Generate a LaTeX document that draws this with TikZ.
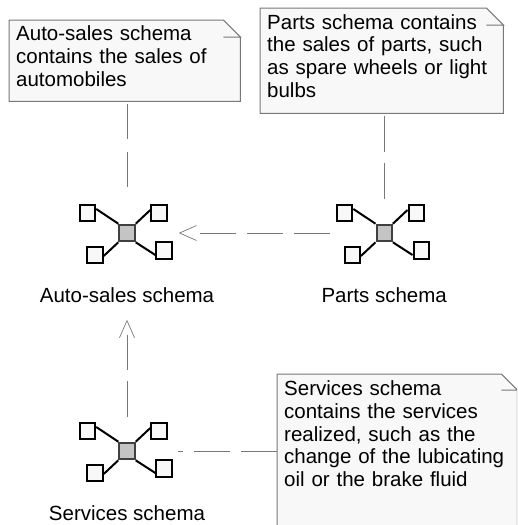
\documentclass[tikz,border=0pt]{standalone}
\usepackage{fontspec}
\setmainfont{Liberation Sans}
\usetikzlibrary{arrows.meta,calc}
\definecolor{notefill}{HTML}{F8F8F8}
\definecolor{iconfill}{HTML}{C4C4C4}
\definecolor{lineclr}{HTML}{787878}
\tikzset{
  notebox/.style={rectangle,fill=notefill,anchor=north west,align=left,text width=#1,inner sep=0pt,font=\fontsize{20.5}{22.8}\selectfont},
  notefold/.style={draw=lineclr,line width=1pt},
  schemabox/.style={rectangle,draw=black,line width=2pt,minimum width=15.4pt,minimum height=16.6pt,inner sep=0pt},
  schemalabel/.style={font=\fontsize{20.5}{22}\selectfont},
  schemaline/.style={draw=black,line width=2pt},
  depline/.style={draw=lineclr,line width=1pt}
}
\newcommand{\notebody}[2]{% outline with the folded corner
  \fill[white] ($(#1.north east)+(-#2,0)$) -- (#1.north east) -- ($(#1.north east)+(0,#2)$) -- cycle;
  \draw[notefold] ($(#1.north east)+(0,#2)$) -- (#1.south east) -- (#1.south west) -- (#1.north west)
    -- ($(#1.north east)+(-#2,0)$) -- ($(#1.north east)+(0,#2)$) -- ($(#1.north east)+(-#2,#2)$) -- cycle;
}
\begin{document}
\begin{tikzpicture}[x=1pt,y=-1pt]
  \useasboundingbox (0,0) rectangle (517,525);
  \clip (0,0) rectangle (517,525);
  \fill[white] (0,0) rectangle (517,525);

  % notes
  \node[notebox=231pt,minimum height=81pt] (autonote) at (9,20) {};
  \node[notebox=215pt,fill=none] (autotext) at (16,25.5) {Auto-sales schema\\contains the sales of\\automobiles};
  \node[notebox=243pt,minimum height=105pt] (partsnote) at (260,8) {};
  \node[notebox=225pt,fill=none] (partstext) at (267,14) {Parts schema contains\\the sales of parts, such\\as spare wheels or light\\bulbs};
  \node[notebox=240pt,minimum height=170pt] (servicesnote) at (277,374) {};
  \node[notebox=225pt,fill=none] (servicestext) at (284,380.5) {Services schema\\contains the services\\realized, such as the\\change of the lubicating\\oil or the brake fluid};
  \notebody{autonote}{17}
  \notebody{partsnote}{17}
  \notebody{servicesnote}{16}

  % schemas
  \foreach \name/\x/\y/\txt in {auto/127/233/Auto-sales schema,parts/384.2/233/Parts schema,services/127/451/Services schema} {
    \node[schemabox,fill=iconfill,draw=black!75] (\name) at (\x,\y) {};
    \node[schemabox,fill=notefill] (\name tl) at ([shift={(-39.5,-20)}]\name) {};
    \node[schemabox,fill=notefill] (\name tr) at ([shift={(32,-20)}]\name) {};
    \node[schemabox,fill=notefill] (\name bl) at ([shift={(-32,22)}]\name) {};
    \node[schemabox,fill=notefill] (\name br) at ([shift={(37,17.5)}]\name) {};
    \draw[schemaline] ($(\name tl.east)+(0,-4)$) -- (\name.north west);
    \draw[schemaline] ($(\name tr.west)+(0,-3)$) -- (\name.north east);
    \draw[schemaline] ($(\name bl.east)+(0,1)$) -- (\name.south west);
    \draw[schemaline] ($(\name br.west)+(0,4.5)$) -- (\name.south east);
    \node[schemalabel] (\name label) at (\x,{\y+62.5}) {\txt};
  }

  % dependencies and note links
  \draw[depline,dash pattern=on 35pt off 13pt,shorten <=3pt,shorten >=25.5pt] (autonote.south -| auto) -- (auto);
  \draw[depline,dash pattern=on 36pt off 11pt,shorten <=3pt,shorten >=25pt] (partsnote.south -| parts) -- (parts);
  \draw[depline,dash pattern=on 36pt off 11pt on 36pt off 11pt on 36pt off 40pt,shorten <=46pt,shorten >=43pt,-{Straight Barb[length=17pt,width=15pt,line width=0.7pt]}] (parts) -- (auto);
  \draw[depline,dash pattern=on 36pt off 11pt on 35pt off 20pt,shorten <=25pt,shorten >=77.5pt,-{Straight Barb[length=17pt,width=15pt,line width=0.7pt]}] (services) -- (auto);
  \draw[depline,dash pattern=on 36pt off 11pt] (servicesnote.west |- services) -- ($(services)+(51,0)$);
\end{tikzpicture}
\end{document}
